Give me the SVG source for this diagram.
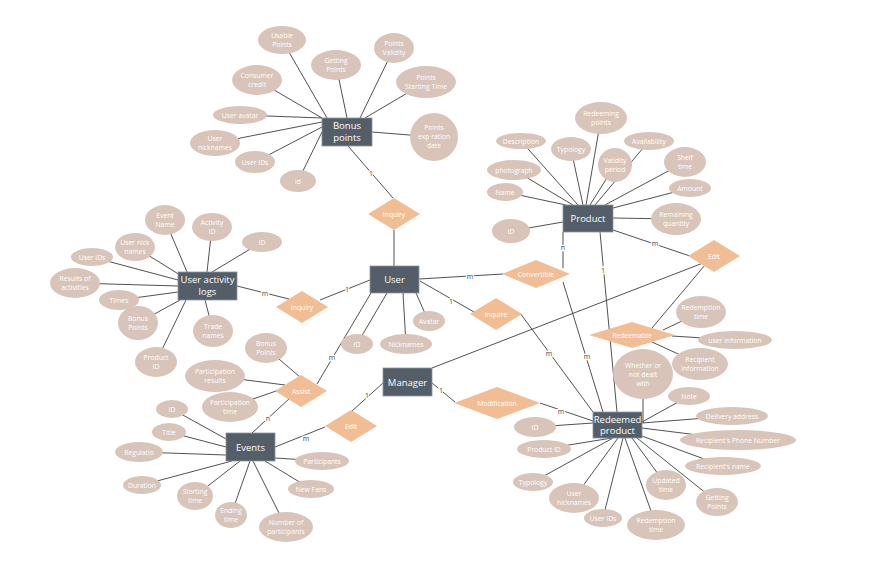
<svg xmlns="http://www.w3.org/2000/svg" width="872" height="570" viewBox="0 0 872 570">
<style>
.ln{stroke:#3d3d3d;stroke-width:0.9;fill:none}
.at{fill:#d8c4b9}
.rel{fill:#f1bd95}
.ent{fill:#535e68;stroke:#8d969d;stroke-width:0.8}
.t{font-family:"Open Sans","Liberation Sans",sans-serif;font-size:6.8px;fill:#ffffff;text-anchor:middle}
.et{font-family:"Open Sans","Liberation Sans",sans-serif;font-size:9.5px;fill:#ffffff;text-anchor:middle}
.lb{font-family:"Open Sans","Liberation Sans",sans-serif;font-size:7px;fill:#444;text-anchor:middle;stroke:#fff;stroke-width:2.5px;paint-order:stroke}
</style>
<rect width="872" height="570" fill="#ffffff"/>
<g id="connectors">
<!-- bonus points attributes -->
<line class="ln" x1="282" y1="40" x2="327" y2="118"/>
<line class="ln" x1="257" y1="80" x2="322" y2="118"/>
<line class="ln" x1="336" y1="65" x2="347" y2="118"/>
<line class="ln" x1="394" y1="48" x2="360" y2="118"/>
<line class="ln" x1="426" y1="82" x2="365" y2="118"/>
<line class="ln" x1="434" y1="137" x2="372" y2="132"/>
<line class="ln" x1="240" y1="115" x2="322" y2="118"/>
<line class="ln" x1="215" y1="143" x2="322" y2="122"/>
<line class="ln" x1="255" y1="162" x2="322" y2="127"/>
<line class="ln" x1="298" y1="181" x2="322" y2="132"/>
<!-- product attributes -->
<line class="ln" x1="601" y1="118" x2="586" y2="205"/>
<line class="ln" x1="521" y1="141" x2="578" y2="205"/>
<line class="ln" x1="571" y1="149" x2="583" y2="205"/>
<line class="ln" x1="615" y1="165" x2="590" y2="205"/>
<line class="ln" x1="649" y1="141" x2="595" y2="205"/>
<line class="ln" x1="685" y1="162" x2="605" y2="205"/>
<line class="ln" x1="514" y1="170" x2="573" y2="205"/>
<line class="ln" x1="690" y1="188" x2="613" y2="208"/>
<line class="ln" x1="505" y1="192" x2="566" y2="205"/>
<line class="ln" x1="676" y1="219" x2="613" y2="218"/>
<line class="ln" x1="511" y1="231" x2="563" y2="222"/>
<!-- logs attributes -->
<line class="ln" x1="165" y1="220" x2="187" y2="272"/>
<line class="ln" x1="212" y1="227" x2="207" y2="272"/>
<line class="ln" x1="262" y1="242" x2="212" y2="272"/>
<line class="ln" x1="135" y1="247" x2="180" y2="275"/>
<line class="ln" x1="92" y1="257" x2="178" y2="280"/>
<line class="ln" x1="75" y1="283" x2="178" y2="286"/>
<line class="ln" x1="119" y1="300" x2="178" y2="292"/>
<line class="ln" x1="138" y1="323" x2="180" y2="300"/>
<line class="ln" x1="156" y1="362" x2="186" y2="300"/>
<line class="ln" x1="213" y1="331" x2="205" y2="300"/>
<!-- events attributes -->
<line class="ln" x1="172" y1="409" x2="228" y2="440"/>
<line class="ln" x1="169" y1="432" x2="226" y2="447"/>
<line class="ln" x1="139" y1="452" x2="226" y2="455"/>
<line class="ln" x1="142" y1="485" x2="232" y2="461"/>
<line class="ln" x1="195" y1="496" x2="240" y2="461"/>
<line class="ln" x1="231" y1="515" x2="250" y2="461"/>
<line class="ln" x1="286" y1="527" x2="253" y2="461"/>
<line class="ln" x1="311" y1="489" x2="265" y2="461"/>
<line class="ln" x1="322" y1="461" x2="275" y2="458"/>
<!-- redeemed product attributes -->
<line class="ln" x1="535" y1="427" x2="593" y2="423"/>
<line class="ln" x1="544" y1="449" x2="612" y2="438"/>
<line class="ln" x1="533" y1="482" x2="613" y2="438"/>
<line class="ln" x1="574" y1="498" x2="618" y2="438"/>
<line class="ln" x1="603" y1="518" x2="623" y2="438"/>
<line class="ln" x1="656" y1="525" x2="625" y2="438"/>
<line class="ln" x1="666" y1="485" x2="632" y2="438"/>
<line class="ln" x1="717" y1="502" x2="637" y2="438"/>
<line class="ln" x1="723" y1="466" x2="642" y2="436"/>
<line class="ln" x1="738" y1="440" x2="642" y2="428"/>
<line class="ln" x1="732" y1="416" x2="642" y2="423"/>
<line class="ln" x1="689" y1="396" x2="642" y2="422"/>
<line class="ln" x1="643" y1="374" x2="643" y2="423"/>
<!-- user attributes -->
<line class="ln" x1="387" y1="293" x2="357" y2="344"/>
<line class="ln" x1="403" y1="293" x2="406" y2="344"/>
<line class="ln" x1="416" y1="293" x2="427" y2="318"/>
<!-- assist attributes -->
<line class="ln" x1="266" y1="348" x2="300" y2="377"/>
<line class="ln" x1="215" y1="376" x2="285" y2="385"/>
<line class="ln" x1="230" y1="407" x2="279" y2="390"/>
<!-- redeemable attributes -->
<line class="ln" x1="701" y1="312" x2="663" y2="330"/>
<line class="ln" x1="735" y1="340" x2="672" y2="336"/>
<line class="ln" x1="700" y1="364" x2="652" y2="342"/>
<!-- relationships -->
<line class="ln" x1="348" y1="146" x2="393" y2="198"/>
<line class="ln" x1="394" y1="230" x2="394" y2="266"/>
<line class="ln" x1="370" y1="280" x2="320" y2="300"/>
<line class="ln" x1="237" y1="286" x2="289" y2="299"/>
<line class="ln" x1="419" y1="279" x2="503" y2="274"/>
<line class="ln" x1="563" y1="232" x2="563" y2="268"/>
<line class="ln" x1="563" y1="282" x2="603" y2="412"/>
<line class="ln" x1="600" y1="232" x2="617" y2="412"/>
<line class="ln" x1="613" y1="230" x2="690" y2="256"/>
<line class="ln" x1="420" y1="281" x2="474" y2="312"/>
<line class="ln" x1="520" y1="313" x2="593" y2="412"/>
<line class="ln" x1="703" y1="263" x2="432" y2="368"/>
<line class="ln" x1="705" y1="265" x2="652" y2="328"/>
<line class="ln" x1="432" y1="383" x2="455" y2="402"/>
<line class="ln" x1="540" y1="403" x2="593" y2="421"/>
<line class="ln" x1="383" y1="383" x2="352" y2="411"/>
<line class="ln" x1="325" y1="427" x2="275" y2="447"/>
<line class="ln" x1="371" y1="293" x2="317" y2="384"/>
<line class="ln" x1="290" y1="398" x2="252" y2="433"/>
<!-- cardinality labels -->
<text class="lb" x="371" y="176">1</text>
<text class="lb" x="347" y="292">1</text>
<text class="lb" x="265" y="296">m</text>
<text class="lb" x="470" y="279">m</text>
<text class="lb" x="563" y="250">n</text>
<text class="lb" x="587" y="359">m</text>
<text class="lb" x="603" y="273">1</text>
<text class="lb" x="655" y="246">m</text>
<text class="lb" x="451" y="304">1</text>
<text class="lb" x="549" y="356">m</text>
<text class="lb" x="441" y="393">1</text>
<text class="lb" x="561" y="414">m</text>
<text class="lb" x="367" y="398">1</text>
<text class="lb" x="306" y="441">m</text>
<text class="lb" x="332" y="360">m</text>
<text class="lb" x="268" y="421">n</text>
</g>
<g id="bonus-attrs">
<ellipse class="at" cx="282" cy="40" rx="24" ry="14"/><text class="t" x="282" y="38">Usable</text><text class="t" x="282" y="47">Points</text>
<ellipse class="at" cx="257" cy="80" rx="25" ry="15"/><text class="t" x="257" y="78">Consumer</text><text class="t" x="257" y="87">credit</text>
<ellipse class="at" cx="336" cy="65" rx="25" ry="15"/><text class="t" x="336" y="63">Getting</text><text class="t" x="336" y="72">Points</text>
<ellipse class="at" cx="394" cy="48" rx="20" ry="15"/><text class="t" x="394" y="46">Points</text><text class="t" x="394" y="55">Validity</text>
<ellipse class="at" cx="426" cy="82" rx="30" ry="16"/><text class="t" x="426" y="80">Points</text><text class="t" x="426" y="89">Starting Time</text>
<ellipse class="at" cx="434" cy="137" rx="24" ry="24"/><text class="t" x="434" y="130">Points</text><text class="t" x="434" y="139">exp ration</text><text class="t" x="434" y="148">date</text>
<ellipse class="at" cx="240" cy="115" rx="27" ry="9"/><text class="t" x="240" y="117.5">User avatar</text>
<ellipse class="at" cx="215" cy="143" rx="25" ry="13"/><text class="t" x="215" y="141">User</text><text class="t" x="215" y="150">nicknames</text>
<ellipse class="at" cx="255" cy="162" rx="20" ry="11"/><text class="t" x="255" y="164.5">User IDs</text>
<ellipse class="at" cx="298" cy="181" rx="18" ry="11"/><text class="t" x="298" y="183.5">id</text>
</g>
<g id="product-attrs">
<ellipse class="at" cx="601" cy="118" rx="26" ry="16"/><text class="t" x="601" y="116">Redeeming</text><text class="t" x="601" y="125">points</text>
<ellipse class="at" cx="521" cy="141" rx="25" ry="8"/><text class="t" x="521" y="143.5">Description</text>
<ellipse class="at" cx="571" cy="149" rx="20" ry="12"/><text class="t" x="571" y="151.5">Typology</text>
<ellipse class="at" cx="615" cy="165" rx="17" ry="17"/><text class="t" x="615" y="163">Validity</text><text class="t" x="615" y="172">period</text>
<ellipse class="at" cx="649" cy="141" rx="25" ry="9"/><text class="t" x="649" y="143.5">Availability</text>
<ellipse class="at" cx="685" cy="162" rx="21" ry="15"/><text class="t" x="685" y="160">Shelf</text><text class="t" x="685" y="169">time</text>
<ellipse class="at" cx="514" cy="170" rx="27" ry="10"/><text class="t" x="514" y="172.5">photograph</text>
<ellipse class="at" cx="690" cy="188" rx="21" ry="9"/><text class="t" x="690" y="190.5">Amount</text>
<ellipse class="at" cx="505" cy="192" rx="18" ry="9"/><text class="t" x="505" y="194.5">Name</text>
<ellipse class="at" cx="676" cy="219" rx="25" ry="16"/><text class="t" x="676" y="217">Remaining</text><text class="t" x="676" y="226">quantity</text>
<ellipse class="at" cx="511" cy="231" rx="19" ry="12"/><text class="t" x="511" y="233.5">ID</text>
</g>
<g id="logs-attrs">
<ellipse class="at" cx="165" cy="220" rx="20" ry="15"/><text class="t" x="165" y="218">Event</text><text class="t" x="165" y="227">Name</text>
<ellipse class="at" cx="212" cy="227" rx="20" ry="14"/><text class="t" x="212" y="225">Activity</text><text class="t" x="212" y="234">ID</text>
<ellipse class="at" cx="262" cy="242" rx="20" ry="10"/><text class="t" x="262" y="244.5">ID</text>
<ellipse class="at" cx="135" cy="247" rx="20" ry="14"/><text class="t" x="135" y="245">User nick</text><text class="t" x="135" y="254">names</text>
<ellipse class="at" cx="92" cy="257" rx="21" ry="9"/><text class="t" x="92" y="259.5">User IDs</text>
<ellipse class="at" cx="75" cy="283" rx="25" ry="15"/><text class="t" x="75" y="281">Results of</text><text class="t" x="75" y="290">activities</text>
<ellipse class="at" cx="119" cy="300" rx="20" ry="10"/><text class="t" x="119" y="302.5">Times</text>
<ellipse class="at" cx="138" cy="323" rx="20" ry="17"/><text class="t" x="138" y="321">Bonus</text><text class="t" x="138" y="330">Points</text>
<ellipse class="at" cx="156" cy="362" rx="21" ry="15"/><text class="t" x="156" y="360">Product</text><text class="t" x="156" y="369">ID</text>
<ellipse class="at" cx="213" cy="331" rx="20" ry="16"/><text class="t" x="213" y="329">Trade</text><text class="t" x="213" y="338">names</text>
</g>
<g id="user-attrs">
<ellipse class="at" cx="357" cy="344" rx="16" ry="10"/><text class="t" x="357" y="346.5">ID</text>
<ellipse class="at" cx="406" cy="344" rx="26" ry="10"/><text class="t" x="406" y="346.5">Nicknames</text>
<ellipse class="at" cx="429" cy="321" rx="16" ry="10"/><text class="t" x="429" y="323.5">Avatar</text>
</g>
<g id="assist-attrs">
<ellipse class="at" cx="266" cy="348" rx="21" ry="15"/><text class="t" x="266" y="346">Bonus</text><text class="t" x="266" y="355">Points</text>
<ellipse class="at" cx="215" cy="376" rx="30" ry="16"/><text class="t" x="215" y="374">Participation</text><text class="t" x="215" y="383">results</text>
<ellipse class="at" cx="230" cy="407" rx="28" ry="15"/><text class="t" x="230" y="405">Participation</text><text class="t" x="230" y="414">time</text>
</g>
<g id="events-attrs">
<ellipse class="at" cx="172" cy="409" rx="16" ry="9"/><text class="t" x="172" y="411.5">ID</text>
<ellipse class="at" cx="169" cy="432" rx="17" ry="9"/><text class="t" x="169" y="434.5">Title</text>
<ellipse class="at" cx="139" cy="452" rx="24" ry="10"/><text class="t" x="139" y="454.5">Regulatio</text>
<ellipse class="at" cx="142" cy="485" rx="19" ry="9"/><text class="t" x="142" y="487.5">Duration</text>
<ellipse class="at" cx="195" cy="496" rx="18" ry="14"/><text class="t" x="195" y="494">Starting</text><text class="t" x="195" y="503">time</text>
<ellipse class="at" cx="231" cy="515" rx="16" ry="13"/><text class="t" x="231" y="513">Ending</text><text class="t" x="231" y="522">time</text>
<ellipse class="at" cx="286" cy="527" rx="27" ry="15"/><text class="t" x="286" y="525">Number of</text><text class="t" x="286" y="534">participants</text>
<ellipse class="at" cx="311" cy="489" rx="23" ry="9"/><text class="t" x="311" y="491.5">New Fans</text>
<ellipse class="at" cx="322" cy="461" rx="27" ry="9"/><text class="t" x="322" y="463.5">Participants</text>
</g>
<g id="redeemable-attrs">
<ellipse class="at" cx="701" cy="312" rx="25" ry="16"/><text class="t" x="701" y="310">Redemption</text><text class="t" x="701" y="319">time</text>
<ellipse class="at" cx="735" cy="340" rx="37" ry="9"/><text class="t" x="735" y="342.5">user information</text>
<ellipse class="at" cx="700" cy="364" rx="28" ry="16"/><text class="t" x="700" y="362">Recipient</text><text class="t" x="700" y="371">information</text>
<ellipse class="at" cx="643" cy="374" rx="30" ry="25"/><text class="t" x="643" y="368">Whether or</text><text class="t" x="643" y="377">not dealt</text><text class="t" x="643" y="386">with</text>
</g>
<g id="redeemed-attrs">
<ellipse class="at" cx="689" cy="396" rx="21" ry="9"/><text class="t" x="689" y="398.5">Note</text>
<ellipse class="at" cx="732" cy="416" rx="36" ry="9"/><text class="t" x="732" y="418.5">Delivery address</text>
<ellipse class="at" cx="738" cy="440" rx="58" ry="10"/><text class="t" x="738" y="442.5">Recipient's Phone Number</text>
<ellipse class="at" cx="723" cy="466" rx="38" ry="9"/><text class="t" x="723" y="468.5">Recipient's name</text>
<ellipse class="at" cx="717" cy="502" rx="21" ry="14"/><text class="t" x="717" y="500">Getting</text><text class="t" x="717" y="509">Points</text>
<ellipse class="at" cx="666" cy="485" rx="20" ry="15"/><text class="t" x="666" y="483">Updated</text><text class="t" x="666" y="492">time</text>
<ellipse class="at" cx="656" cy="525" rx="29" ry="15"/><text class="t" x="656" y="523">Redemption</text><text class="t" x="656" y="532">time</text>
<ellipse class="at" cx="603" cy="518" rx="19" ry="9"/><text class="t" x="603" y="520.5">User IDs</text>
<ellipse class="at" cx="574" cy="498" rx="25" ry="15"/><text class="t" x="574" y="496">User</text><text class="t" x="574" y="505">nicknames</text>
<ellipse class="at" cx="533" cy="482" rx="20" ry="9"/><text class="t" x="533" y="484.5">Typology</text>
<ellipse class="at" cx="544" cy="449" rx="27" ry="9"/><text class="t" x="544" y="451.5">Product ID</text>
<ellipse class="at" cx="535" cy="427" rx="21" ry="10"/><text class="t" x="535" y="429.5">ID</text>
</g>
<g id="rel-inquiry-bonus"><polygon class="rel" points="368,214 394,198 420,214 394,230"/><text class="t" x="394" y="216.5">Inquiry</text></g>
<g id="rel-inquiry-logs"><polygon class="rel" points="276,307 302,291 328,307 302,323"/><text class="t" x="302" y="309.5">Inquiry</text></g>
<g id="rel-convertible"><polygon class="rel" points="502,274 536,260 570,274 536,288"/><text class="t" x="536" y="276.5">Convertible</text></g>
<g id="rel-inquire"><polygon class="rel" points="470,314 496,298 522,314 496,330"/><text class="t" x="496" y="316.5">Inquire</text></g>
<g id="rel-edit-product"><polygon class="rel" points="688,256 714,240 740,256 714,272"/><text class="t" x="714" y="258.5">Edit</text></g>
<g id="rel-redeemable"><polygon class="rel" points="589,335 632,322 675,335 632,348"/><text class="t" x="632" y="337.5">Redeemable</text></g>
<g id="rel-modification"><polygon class="rel" points="454,403 497,387 540,403 497,419"/><text class="t" x="497" y="405.5">Modification</text></g>
<g id="rel-edit-events"><polygon class="rel" points="325,426 351,410 377,426 351,442"/><text class="t" x="351" y="428.5">Edit</text></g>
<g id="rel-assist"><polygon class="rel" points="275,391 301,375 327,391 301,407"/><text class="t" x="301" y="393.5">Assist</text></g>
<g id="bonus-points"><rect class="ent" x="322" y="118" width="50" height="28"/><text class="et" x="347" y="129">Bonus</text><text class="et" x="347" y="141">points</text></g>
<g id="product"><rect class="ent" x="563" y="205" width="50" height="27"/><text class="et" x="588" y="222">Product</text></g>
<g id="user"><rect class="ent" x="370" y="266" width="49" height="27"/><text class="et" x="394.5" y="283">User</text></g>
<g id="user-activity-logs"><rect class="ent" x="178" y="272" width="59" height="28"/><text class="et" x="207.5" y="283">User activity</text><text class="et" x="207.5" y="295">logs</text></g>
<g id="manager"><rect class="ent" x="383" y="368" width="49" height="28"/><text class="et" x="407.5" y="385.5">Manager</text></g>
<g id="redeemed-product"><rect class="ent" x="593" y="412" width="49" height="26"/><text class="et" x="617.5" y="422.5">Redeemed</text><text class="et" x="617.5" y="434">product</text></g>
<g id="events"><rect class="ent" x="226" y="433" width="49" height="28"/><text class="et" x="250.5" y="450.5">Events</text></g>
</svg>
